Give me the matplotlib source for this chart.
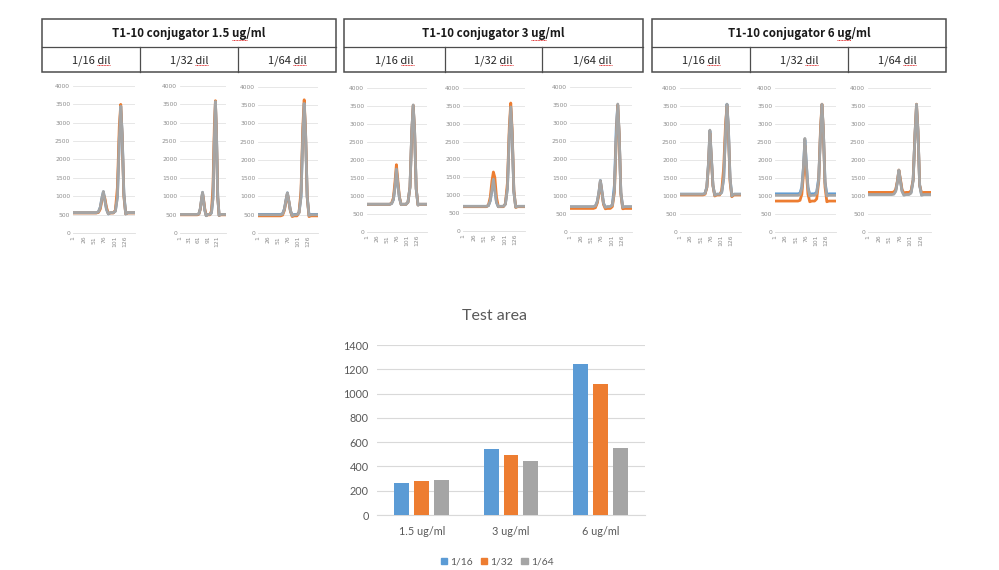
import numpy as np
import matplotlib.pyplot as plt
from matplotlib.patches import Rectangle

# ---- data -------------------------------------------------------------
concs = ["1.5", "3", "6"]
dils = ["1/16", "1/32", "1/64"]
series_colors = ["#5B9BD5", "#ED7D31", "#A5A5A5"]

# sample indices along each chromatogram (150 points per run)
xs = [1, 57, 62, 66.5, 70.5, 74, 77.5, 81.5, 86, 91, 98, 103, 108, 112.5, 116, 119.5, 123.5, 128, 133, 150]

# panel order: 1.5 1/16, 1.5 1/32, 1.5 1/64, 3 1/16, ... ; each = [blue, orange, gray]
p1 = [[550, 550, 570, 700, 950, 1120, 900, 650, 520, 550, 550, 600, 1000, 2600, 3450, 2700, 1100, 520, 550, 550],
      [545, 545, 560, 650, 900, 1050, 950, 700, 530, 545, 545, 620, 1250, 2900, 3500, 2600, 1000, 520, 545, 545],
      [555, 555, 575, 700, 960, 1130, 890, 640, 520, 555, 555, 590, 980, 2550, 3450, 2650, 1050, 520, 555, 555]]
p2 = [[500, 500, 520, 650, 900, 1100, 880, 620, 470, 500, 500, 550, 950, 2600, 3550, 2700, 1000, 480, 500, 500],
      [495, 495, 515, 640, 880, 1080, 900, 650, 480, 495, 495, 600, 1250, 2900, 3600, 2650, 980, 480, 495, 495],
      [505, 505, 525, 655, 905, 1110, 870, 610, 470, 505, 505, 545, 940, 2580, 3580, 2680, 990, 480, 505, 505]]
p3 = [[510, 510, 530, 660, 910, 1100, 880, 620, 480, 510, 510, 560, 1000, 2700, 3550, 2700, 1000, 490, 510, 510],
      [470, 470, 490, 620, 870, 1080, 870, 600, 450, 470, 470, 560, 1150, 2900, 3650, 2750, 980, 450, 470, 470],
      [500, 500, 520, 650, 900, 1100, 880, 610, 470, 500, 500, 550, 980, 2650, 3550, 2700, 990, 480, 500, 500]]
p4 = [[770, 770, 790, 900, 1250, 1700, 1350, 950, 760, 770, 770, 830, 1250, 2800, 3500, 2800, 1200, 750, 770, 770],
      [770, 770, 800, 950, 1400, 1870, 1450, 980, 760, 770, 770, 830, 1250, 2800, 3520, 2800, 1200, 750, 770, 770],
      [770, 770, 790, 900, 1250, 1750, 1350, 950, 760, 770, 770, 830, 1250, 2800, 3530, 2800, 1200, 750, 770, 770]]
p5 = [[690, 690, 710, 850, 1150, 1450, 1150, 800, 680, 690, 690, 750, 1200, 2700, 3450, 2700, 1100, 670, 690, 690],
      [680, 680, 720, 950, 1400, 1650, 1500, 950, 680, 680, 680, 760, 1350, 2900, 3580, 2800, 1150, 660, 680, 680],
      [690, 690, 710, 850, 1150, 1450, 1150, 800, 680, 690, 690, 750, 1200, 2700, 3470, 2700, 1100, 670, 690, 690]]
p6 = [[690, 690, 710, 840, 1100, 1420, 1150, 800, 680, 690, 690, 760, 1300, 2900, 3500, 2700, 1100, 680, 690, 690],
      [650, 650, 670, 800, 1050, 1400, 1100, 760, 640, 650, 650, 700, 1100, 2600, 3500, 2700, 1050, 640, 650, 650],
      [700, 700, 720, 840, 1100, 1420, 1120, 790, 680, 700, 700, 740, 1150, 2650, 3530, 2700, 1080, 680, 700, 700]]
p7 = [[1050, 1050, 1070, 1250, 1900, 2800, 2100, 1300, 1020, 1050, 1050, 1100, 1500, 2800, 3550, 2900, 1500, 1000, 1050, 1050],
      [1030, 1030, 1050, 1230, 1850, 2750, 2050, 1280, 1000, 1030, 1030, 1150, 1800, 3000, 3500, 2800, 1400, 980, 1030, 1030],
      [1050, 1050, 1070, 1250, 1900, 2830, 2100, 1300, 1020, 1050, 1050, 1100, 1500, 2800, 3550, 2900, 1500, 1000, 1050, 1050]]
p8 = [[1060, 1060, 1080, 1250, 1800, 2550, 1900, 1250, 1040, 1060, 1060, 1110, 1500, 2800, 3500, 2800, 1400, 1040, 1060, 1060],
      [860, 860, 880, 1050, 1600, 2400, 1700, 1050, 840, 860, 860, 920, 1400, 2900, 3550, 2800, 1250, 840, 860, 860],
      [1020, 1020, 1040, 1220, 1800, 2600, 1900, 1220, 1000, 1020, 1020, 1080, 1450, 2750, 3550, 2800, 1350, 1000, 1020, 1020]]
p9 = [[1060, 1060, 1070, 1150, 1400, 1700, 1450, 1150, 1040, 1060, 1060, 1100, 1450, 2750, 3500, 2800, 1300, 1040, 1060, 1060],
      [1100, 1100, 1110, 1180, 1420, 1720, 1480, 1180, 1080, 1100, 1100, 1140, 1450, 2750, 3550, 2800, 1300, 1080, 1100, 1100],
      [1040, 1040, 1050, 1130, 1380, 1720, 1430, 1130, 1020, 1040, 1040, 1080, 1420, 2700, 3550, 2800, 1300, 1020, 1040, 1040]]
panels = [p1, p2, p3, p4, p5, p6, p7, p8, p9]

xlab_default = [1, 26, 51, 76, 101, 126]
xlab_narrow = [1, 31, 61, 91, 121]

# bar chart
bar_cats = ["1.5 ug/ml", "3 ug/ml", "6 ug/ml"]
area_1_16 = [262, 545, 1245]
area_1_32 = [278, 497, 1082]
area_1_64 = [288, 447, 552]

# ---- figure -----------------------------------------------------------
W, H = 999, 570
fig = plt.figure(figsize=(W / 100, H / 100), dpi=100)
fig.patch.set_facecolor("white")


def rect(l, t, r, b):
    return [l / W, 1 - b / H, (r - l) / W, (b - t) / H]


# overlay for the tables
ov = fig.add_axes([0, 0, 1, 1])
ov.set_xlim(0, W)
ov.set_ylim(H, 0)
ov.axis("off")

tfont = ["Noto Sans CJK KR", "DejaVu Sans"]
tables = [(42, 336, 140, 238), (344, 643, 445, 542), (652, 946, 750, 848)]
top, mid, bot = 19, 47, 72
border = "#4d4d4d"
renderer = fig.canvas.get_renderer()


def squiggle(x0, x1, y):
    ov.plot([x0, x1], [y, y], color="#e03030", lw=0.7, ls=(0, (1, 0.6)))


for (l, r, c1, c2), conc in zip(tables, concs):
    ov.add_patch(Rectangle((l, top), r - l, bot - top, fill=False, ec=border, lw=1.1))
    ov.plot([l, r], [mid, mid], color=border, lw=0.9)
    ov.plot([c1, c1], [mid, bot], color=border, lw=0.9)
    ov.plot([c2, c2], [mid, bot], color=border, lw=0.9)
    t = ov.text((l + r) / 2, (top + mid) / 2 + 1, f"T1-10 conjugator {conc} ug/ml",
                ha="center", va="center", fontsize=8.3, fontweight="bold",
                family=tfont, color="#1a1a1a")
    bb = t.get_window_extent(renderer)
    tmp = ov.text(0, 0, "ug/ml", fontsize=8.3, fontweight="bold", family=tfont)
    w1 = tmp.get_window_extent(renderer).width
    tmp.set_text("ug")
    w2 = tmp.get_window_extent(renderer).width
    tmp.remove()
    squiggle(bb.x1 - w1, bb.x1 - w1 + w2, H - bb.y0 - 1)
    for cl, cr, d in zip([l, c1, c2], [c1, c2, r], dils):
        t = ov.text((cl + cr) / 2, (mid + bot) / 2 + 1, f"{d} dil", ha="center", va="center",
                    fontsize=8, family=tfont, color="#262626")
        bb = t.get_window_extent(renderer)
        tmp = ov.text(0, 0, "dil", fontsize=8, family=tfont)
        wd = tmp.get_window_extent(renderer).width
        tmp.remove()
        squiggle(bb.x1 - wd, bb.x1, H - bb.y0 - 1)

# small chromatogram panels: (left, right, top(4000), bottom(0))
boxes = [(73, 135, 86, 233), (180, 226, 86, 233), (258, 318, 87, 233),
         (367, 427, 88, 232), (463, 525, 88, 231), (570, 632, 87, 232),
         (680, 741, 88, 232), (775, 836, 88, 232), (868, 931, 88, 232)]
tick_gray = "#8c8c8c"
for i, (box, pdata) in enumerate(zip(boxes, panels)):
    l, r, t, b = box
    ax = fig.add_axes(rect(l, t, r, b))
    for ys, c in zip(pdata, series_colors):
        ax.plot(xs, ys, color=c, lw=2.0, solid_joinstyle="round")
    ax.set_xlim(0.5, 150.5)
    ax.set_ylim(0, 4000)
    ax.set_yticks(np.arange(0, 4001, 500))
    ax.set_yticklabels([str(v) for v in range(0, 4001, 500)])
    xl = xlab_narrow if i == 1 else xlab_default
    ax.set_xticks(xl)
    ax.set_xticklabels([str(v) for v in xl], rotation=90)
    ax.grid(axis="y", color="#e3e3e3", lw=0.6)
    ax.set_axisbelow(True)
    for s in ax.spines.values():
        s.set_visible(False)
    ax.spines["bottom"].set_visible(True)
    ax.spines["bottom"].set_color("#dddddd")
    ax.spines["bottom"].set_linewidth(0.6)
    ax.tick_params(axis="both", length=0, labelsize=4.3, colors=tick_gray, pad=2)
    ax.patch.set_alpha(0)

# bar chart
bx = fig.add_axes(rect(377, 345, 645, 515))
pos = np.arange(len(bar_cats))
bw = 0.167
off = 0.222
for k, (vals, c) in enumerate(zip([area_1_16, area_1_32, area_1_64], series_colors)):
    bx.bar(pos + (k - 1) * off, vals, width=bw, color=c, zorder=3, label=dils[k])
bx.set_xlim(-0.5, 2.5)
bx.set_ylim(0, 1400)
bx.set_yticks(np.arange(0, 1401, 200))
bx.set_xticks(pos)
bx.set_xticklabels(bar_cats)
bx.grid(axis="y", color="#d9d9d9", lw=0.8, zorder=0)
for s in bx.spines.values():
    s.set_visible(False)
bx.spines["bottom"].set_visible(True)
bx.spines["bottom"].set_color("#d9d9d9")
bx.tick_params(axis="both", length=0, labelsize=7.8, colors="#595959")
bx.tick_params(axis="x", pad=8)
bx.tick_params(axis="y", pad=6)
for lab in bx.get_xticklabels() + bx.get_yticklabels():
    lab.set_family("Lato")
fig.text(495 / W, 1 - 316 / H, "Test area", ha="center", va="center", fontsize=11.5,
         color="#595959", family="Lato")
handles = [Rectangle((0, 0), 1, 1, color=c) for c in series_colors]
leg = fig.legend(handles, dils, loc="center", bbox_to_anchor=(497 / W, 1 - 562 / H), ncol=3,
                 frameon=False, fontsize=7.5, handlelength=0.6, handleheight=0.6,
                 handletextpad=0.3, columnspacing=0.8)
for tx in leg.get_texts():
    tx.set_color("#595959")
    tx.set_family("Lato")

fig.savefig("out.png", dpi=100, facecolor="white")
